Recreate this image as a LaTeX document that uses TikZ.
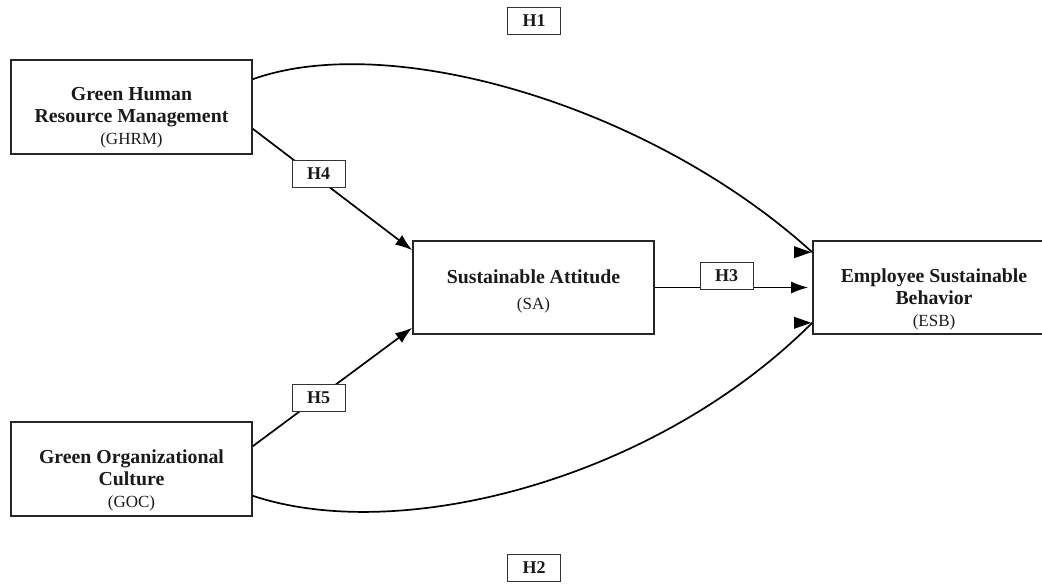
\documentclass[tikz,border=0pt]{standalone}
\usepackage{fontspec}
\setmainfont{Liberation Serif}
\usetikzlibrary{arrows.meta}
\definecolor{txt}{HTML}{1A1A1A}
\tikzset{
  box/.style={draw=black!85, line width=1.6pt, fill=white, inner sep=0pt},
  lbl/.style={inner sep=0pt, align=center, text=txt, font=\fontsize{19.8}{22}\selectfont\bfseries},
  hbox/.style={draw=black!80, line width=1pt, fill=white, inner sep=0pt, text=txt,
    font=\fontsize{18}{20}\selectfont\bfseries, minimum width=53pt, minimum height=27pt},
  conn/.style={line width=1.7pt, black},
  arr/.style={conn, -{Latex[length=17pt,width=12pt]}}
}
\newcommand{\abbr}[1]{{\fontsize{17}{19}\selectfont\mdseries #1}}
\begin{document}
\begin{tikzpicture}[x=1pt,y=-1pt]
\useasboundingbox (0,0) rectangle (1042,584);
% boxes
\node[box, minimum width=241pt, minimum height=94pt] (ghrm) at (131.5,107) {};
\node[box, minimum width=241pt, minimum height=94pt] (goc) at (131.5,469) {};
\node[box, minimum width=241pt, minimum height=93pt] (sa) at (533.5,287.5) {};
\node[box, minimum width=232pt, minimum height=93pt] (esb) at (929,287.5) {};
\node[lbl] (ghrmT) at ([yshift=-11pt]ghrm.center) {Green Human\\Resource Management\\\abbr{(GHRM)}};
\node[lbl] (gocT) at ([yshift=-11pt]goc.center) {Green Organizational\\Culture\\\abbr{(GOC)}};
\node[lbl] (saT) at ([yshift=-3.5pt]sa.center) {Sustainable Attitude\\[4pt]\abbr{(SA)}};
\node[lbl] (esbT) at ([xshift=5pt,yshift=-12pt]esb.center) {Employee Sustainable\\Behavior\\\abbr{(ESB)}};
% anchor coordinates
\coordinate (g1) at ([yshift=-20pt]ghrm.north east);
\coordinate (g2) at ([yshift=26pt]ghrm.south east);
\coordinate (o1) at ([yshift=-25pt]goc.north east);
\coordinate (o2) at ([yshift=21pt]goc.south east);
\coordinate (s1) at ([yshift=-10pt]sa.north west);
\coordinate (s2) at ([yshift=7pt]sa.south west);
\coordinate (e1) at ([yshift=-12pt]esb.north west);
\coordinate (e3) at ([yshift=12pt]esb.south west);
% connectors
\draw[conn] (g1) .. controls (390,30) and (650,105) .. (e1);
\draw[conn] (o2) .. controls (400,545) and (655,480) .. (e3);
\fill[black] ([xshift=-1pt]e1) -- ++(-17,-6) -- ++(0,12) -- cycle;
\fill[black] ([xshift=-1pt]e3) -- ++(-17,-6) -- ++(0,12) -- cycle;
\draw[arr] (g2) -- (s1);
\draw[arr] (o1) -- (s2);
\draw[arr, shorten >=4pt] (sa.east) -- (esb.west);
% hypothesis labels
\node[hbox] (h1) at (534,21) {H1};
\node[hbox] (h2) at (534,568) {H2};
\node[hbox] (h3) at (726.5,275.5) {H3};
\node[hbox] (h4) at (318.5,174) {H4};
\node[hbox] (h5) at (318.5,397.5) {H5};
\end{tikzpicture}
\end{document}
